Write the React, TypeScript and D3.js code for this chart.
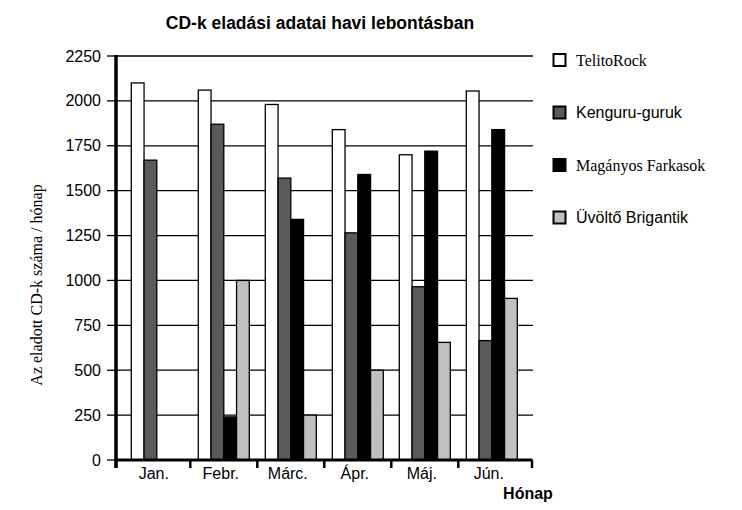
import React from "react";
import * as d3 from "d3";

const months = ["Jan.", "Febr.", "Márc.", "Ápr.", "Máj.", "Jún."];
const seriesNames = ["TelitoRock", "Kenguru-guruk", "Magányos Farkasok", "Üvöltő Brigantik"];
const telitoRock = [2100, 2060, 1980, 1840, 1700, 2055];
const kenguruGuruk = [1670, 1870, 1570, 1265, 965, 665];
const maganyosFarkasok = [0, 240, 1340, 1590, 1720, 1840];
const uvoltoBrigantik = [0, 1000, 250, 500, 655, 900];
const yTicks = [0, 250, 500, 750, 1000, 1250, 1500, 1750, 2000, 2250];

const seriesValues = [telitoRock, kenguruGuruk, maganyosFarkasok, uvoltoBrigantik];
const colors = ["#ffffff", "#5a5a5a", "#000000", "#c0c0c0"];
const legendFonts = [
  "'Liberation Serif', 'Times New Roman', serif",
  "'Liberation Sans', Arial, sans-serif",
  "'Liberation Serif', 'Times New Roman', serif",
  "'Liberation Sans', Arial, sans-serif",
];

const SANS = "'Liberation Sans', Arial, sans-serif";
const SERIF = "'Liberation Serif', 'Times New Roman', serif";

export default function App() {
  const left = 116;
  const right = 532;
  const top = 56;
  const bottom = 460;

  const y = d3.scaleLinear().domain([0, 2250]).range([bottom, top]);
  const pi = 16 / 67;
  const x = d3
    .scaleBand<string>()
    .domain(months)
    .range([123.3, 525.3])
    .paddingInner(pi)
    .paddingOuter(pi / 2);
  const step = x.step();
  const bw = x.bandwidth();
  const x1 = d3.scaleBand<number>().domain([0, 1, 2, 3]).range([0, bw]);

  const gap = step - bw;
  const catTicks = [left, ...months.slice(1).map((m) => (x(m) as number) - gap / 2), right];

  return (
    <svg width={742} height={510} style={{ position: "absolute", left: 0, top: 0 }}>
      <rect width={742} height={510} fill="#fff" />
      <text
        x={320}
        y={29}
        textAnchor="middle"
        fontFamily={SANS}
        fontWeight="bold"
        fontSize={17.5}
      >
        CD-k eladási adatai havi lebontásban
      </text>

      {/* gridlines */}
      {yTicks.map((t) => (
        <line key={"g" + t} x1={left} x2={right + 1} y1={y(t)} y2={y(t)} stroke="#000" strokeWidth={1.3} />
      ))}
      {/* y ticks and labels */}
      {yTicks.map((t) => (
        <g key={"t" + t}>
          <line x1={107} x2={left} y1={y(t)} y2={y(t)} stroke="#000" strokeWidth={1.3} />
          <text x={101} y={y(t) + 5.5} textAnchor="end" fontFamily={SANS} fontSize={16}>
            {t}
          </text>
        </g>
      ))}

      {/* bars */}
      {months.map((m, i) => (
        <g key={m} transform={`translate(${x(m)},0)`}>
          {seriesValues.map((vals, s) => (
            <rect
              key={s}
              x={x1(s)}
              y={y(vals[i])}
              width={x1.bandwidth()}
              height={bottom - y(vals[i])}
              fill={colors[s]}
              stroke="#000"
              strokeWidth={1.3}
            />
          ))}
        </g>
      ))}

      {/* axes */}
      <line x1={left} x2={left} y1={55} y2={468} stroke="#000" strokeWidth={3.5} />
      <line x1={left} x2={right} y1={bottom} y2={bottom} stroke="#000" strokeWidth={3} />
      {catTicks.map((t, i) => (
        <line key={"c" + i} x1={t} x2={t} y1={bottom} y2={468} stroke="#000" strokeWidth={2.5} />
      ))}
      {months.map((m) => (
        <text
          key={"l" + m}
          x={(x(m) as number) + bw / 2 - 3}
          y={479}
          textAnchor="middle"
          fontFamily={SANS}
          fontSize={16}
        >
          {m}
        </text>
      ))}

      <text x={528} y={499} textAnchor="middle" fontFamily={SANS} fontWeight="bold" fontSize={16}>
        Hónap
      </text>

      <text
        transform={`translate(42,285) rotate(-90)`}
        textAnchor="middle"
        fontFamily={SERIF}
        fontSize={16}
      >
        Az eladott CD-k száma / hónap
      </text>

      {/* legend */}
      {seriesNames.map((n, i) => {
        const cy = 60 + i * 52.5;
        return (
          <g key={n}>
            <rect x={553.5} y={cy - 6} width={12} height={12} fill={colors[i]} stroke="#000" strokeWidth={2} />
            <text x={576} y={cy + 5.5} fontFamily={legendFonts[i]} fontSize={16}>
              {n}
            </text>
          </g>
        );
      })}
    </svg>
  );
}
